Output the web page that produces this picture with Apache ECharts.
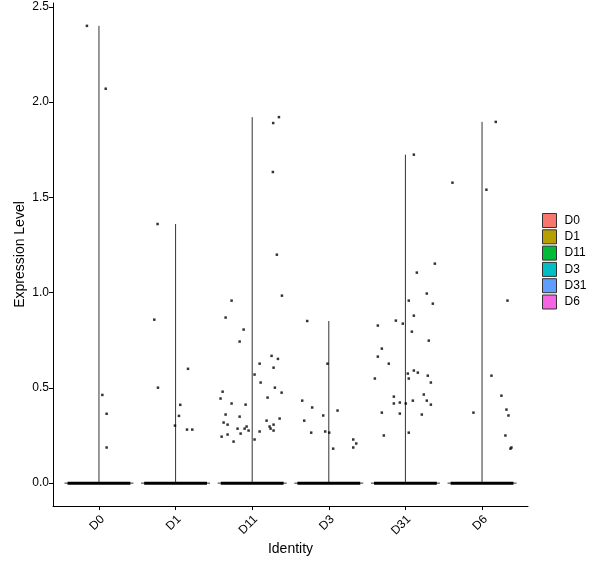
<!DOCTYPE html>
<html>
<head>
<meta charset="utf-8">
<script src="https://cdn.jsdelivr.net/npm/echarts@6/dist/echarts.min.js"></script>
<style>
  html, body { margin: 0; padding: 0; background: #fff; }
  #chart { width: 600px; height: 568px; }
</style>
</head>
<body>
<div id="chart"></div>
<script>
// 分组（横轴类别）
var categories = ['D0', 'D1', 'D11', 'D3', 'D31', 'D6'];
var colors = ['#F8766D', '#B79F00', '#00BA38', '#00BFC4', '#619CFF', '#F564E3'];
var yTicks = [0, 0.5, 1.0, 1.5, 2.0, 2.5];

// 每组非零表达值，及其横向抖动（类别宽度单位）
var valuesD0 = [2.40, 2.07, 0.463, 0.364, 0.187];
var jitterD0 = [-0.157, 0.088, 0.044, 0.10, 0.10];

var valuesD1 = [1.36, 0.858, 0.501, 0.600, 0.411, 0.353, 0.302, 0.281, 0.281];
var jitterD1 = [-0.235, -0.278, -0.23, 0.162, 0.061, 0.044, -0.008, 0.149, 0.218];

var valuesD11 = [1.890, 1.921, 1.633, 1.199, 0.958, 0.984, 0.869, 0.806, 0.743, 0.668,
  0.652, 0.627, 0.606, 0.570, 0.528, 0.501, 0.480, 0.475, 0.444, 0.449, 0.418, 0.412,
  0.360, 0.349, 0.339, 0.328, 0.318, 0.307, 0.307, 0.297, 0.297, 0.286, 0.286, 0.286,
  0.276, 0.276, 0.271, 0.260, 0.244, 0.255, 0.229, 0.218];
var jitterD11 = [0.274, 0.349, 0.270, 0.322, -0.269, 0.388, -0.347, -0.112, -0.164, 0.253,
  0.336, 0.097, 0.279, 0.031, 0.110, 0.296, -0.386, 0.384, -0.413, 0.201, -0.269, -0.086,
  -0.347, -0.164, 0.358, 0.188, -0.373, -0.321, 0.279, 0.227, -0.073, -0.191, -0.099, 0.240,
  -0.047, 0.279, 0.097, -0.151, -0.399, -0.321, 0.031, -0.243];

var valuesD3 = [0.851, 0.627, 0.433, 0.397, 0.381, 0.355, 0.328, 0.265, 0.271, 0.265,
  0.181, 0.229, 0.208, 0.187];
var jitterD3 = [-0.282, -0.017, -0.347, -0.217, 0.114, -0.073, -0.321, -0.230, -0.047, 0.005,
  0.057, 0.319, 0.358, 0.319];

var valuesD31 = [1.724, 1.152, 1.105, 0.995, 0.958, 0.942, 0.879, 0.827, 0.853, 0.837,
  0.795, 0.748, 0.706, 0.664, 0.627, 0.591, 0.575, 0.580, 0.549, 0.564, 0.549, 0.528,
  0.465, 0.454, 0.433, 0.433, 0.418, 0.423, 0.418, 0.412, 0.370, 0.365, 0.360, 0.250, 0.265];
var jitterD31 = [0.110, 0.384, 0.149, 0.279, 0.044, 0.358, 0.110, -0.360, -0.125, -0.034,
  0.084, 0.305, -0.308, -0.360, -0.217, 0.110, 0.031, 0.162, 0.044, 0.292, -0.399, 0.332,
  0.240, -0.151, 0.279, 0.097, -0.151, -0.073, 0.005, 0.332, -0.308, -0.073, 0.214, -0.282, 0.044];

var valuesD6 = [1.896, 1.577, 1.540, 0.958, 0.564, 0.459, 0.370, 0.386, 0.355, 0.250, 0.181, 0.187];
var jitterD6 = [0.179, -0.386, 0.057, 0.332, 0.123, 0.253, -0.112, 0.319, 0.345, 0.305, 0.371, 0.384];

var groupValues = [valuesD0, valuesD1, valuesD11, valuesD3, valuesD31, valuesD6];
var groupJitter = [jitterD0, jitterD1, jitterD11, jitterD3, jitterD31, jitterD6];

var chart = echarts.init(document.getElementById('chart'));

var series = [];
var points = [];
categories.forEach(function (name, i) {
  var c = i + 1;
  var vmax = Math.max.apply(null, groupValues[i]);
  // 小提琴（被零值压扁成“倒 T”）
  series.push({
    name: name,
    type: 'line',
    color: colors[i],
    showSymbol: false,
    silent: true,
    z: 2,
    lineStyle: { color: '#333', width: 1 },
    data: [[c - 0.45, 0], [c + 0.45, 0], [c, '-'], [c, 0], [c, vmax]]
  });
  // 零值细胞的抖动点
  series.push({
    type: 'line',
    showSymbol: false,
    silent: true,
    z: 3,
    lineStyle: { color: '#000', width: 3 },
    data: [[c - 0.41, 0], [c + 0.41, 0]]
  });
  groupValues[i].forEach(function (v, k) {
    points.push([c + groupJitter[i][k], v]);
  });
});
series.push({
  type: 'scatter',
  symbol: 'rect',
  symbolSize: 2.5,
  silent: true,
  z: 4,
  itemStyle: { color: '#000' },
  data: points
});

var option = {
  animation: false,
  textStyle: { fontFamily: 'Liberation Sans, Arial, sans-serif' },
  grid: { left: 53, right: 72, top: 3, bottom: 62 },
  legend: {
    left: 542,
    top: 213,
    padding: 0,
    orient: 'vertical',
    icon: 'rect',
    itemWidth: 14,
    itemHeight: 14,
    itemGap: 1.3,
    textStyle: { fontSize: 12, color: '#000', padding: [0, 0, 0, 3] },
    data: categories.map(function (n, i) {
      return { name: n, itemStyle: { color: colors[i], borderColor: '#333', borderWidth: 1 } };
    })
  },
  xAxis: {
    type: 'value',
    min: 0.4,
    max: 6.6,
    name: 'Identity',
    nameLocation: 'middle',
    nameGap: 36,
    nameMoveOverlap: false,
    nameTextStyle: { fontSize: 14, color: '#000' },
    splitLine: { show: false },
    axisLine: { onZero: false, lineStyle: { color: '#000', width: 1 } },
    axisTick: { customValues: [1, 2, 3, 4, 5, 6], length: 4, lineStyle: { color: '#000' } },
    axisLabel: {
      customValues: [1, 2, 3, 4, 5, 6],
      rotate: 45,
      fontSize: 12,
      color: '#000',
      margin: 15,
      padding: [0, -5, 0, 0],
      formatter: function (v) { return categories[Math.round(v) - 1]; }
    }
  },
  yAxis: {
    type: 'value',
    min: -0.12,
    max: 2.52,
    name: 'Expression Level',
    nameLocation: 'middle',
    nameGap: 26,
    nameMoveOverlap: false,
    nameTextStyle: { fontSize: 14, color: '#000' },
    splitLine: { show: false },
    axisLine: { show: true, onZero: false, lineStyle: { color: '#000', width: 1 } },
    axisTick: { show: true, customValues: yTicks, length: 4, lineStyle: { color: '#000' } },
    axisLabel: {
      customValues: yTicks,
      fontSize: 12,
      color: '#000',
      margin: 4,
      formatter: function (v) { return v.toFixed(1); }
    }
  },
  series: series
};
chart.setOption(option);
</script>
</body>
</html>
